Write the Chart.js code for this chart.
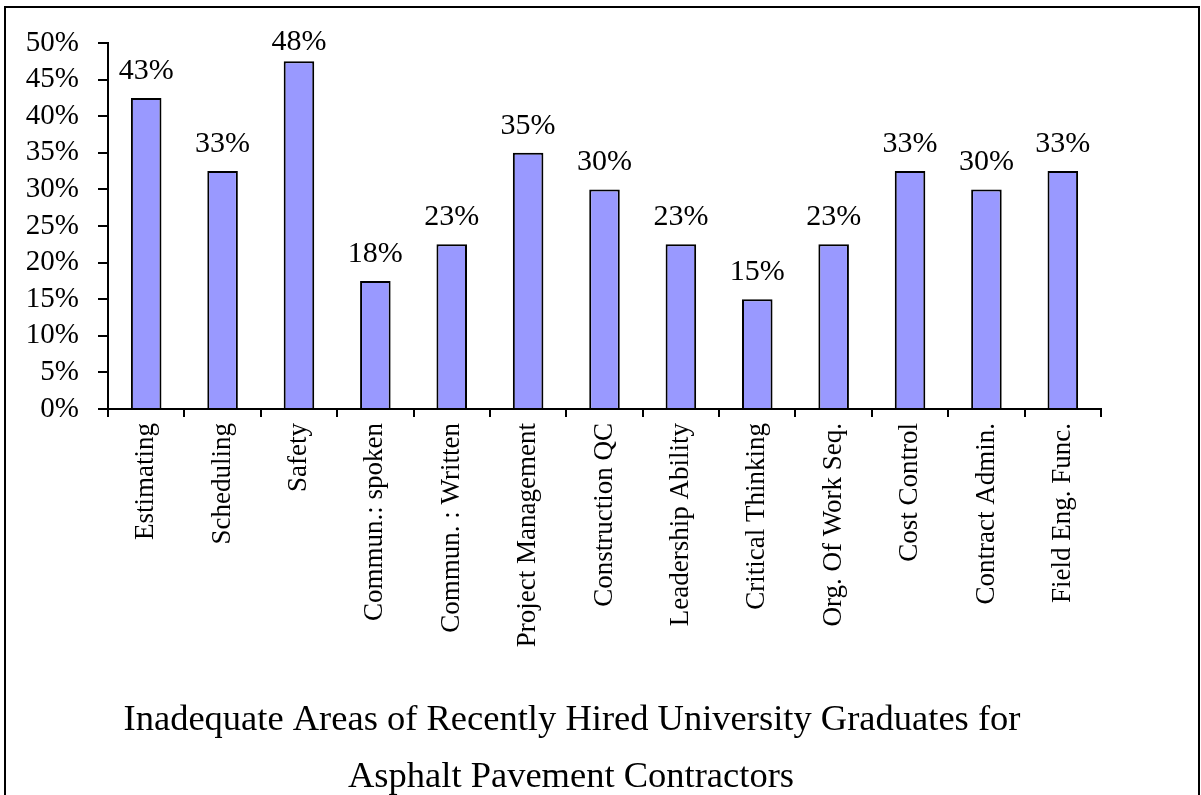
<!DOCTYPE html>
<html>
<head>
<meta charset="utf-8">
<script src="https://cdn.jsdelivr.net/npm/chart.js@4/dist/chart.umd.min.js"></script>
<style>
  html, body { margin:0; padding:0; background:#fff; overflow:hidden; }
  #frame { position:absolute; left:4px; top:6px; width:1196px; height:900px; border:2px solid #000; box-sizing:border-box; }
  #chart { position:absolute; left:0; top:0; }
</style>
</head>
<body>
<div id="frame"></div>
<canvas id="chart" width="1201" height="795"></canvas>
<script>
// chart data
const categories = [
  'Estimating', 'Scheduling', 'Safety', 'Commun.: spoken', 'Commun. : Written',
  'Project Management', 'Construction QC', 'Leadership Ability', 'Critical Thinking',
  'Org. Of Work Seq.', 'Cost Control', 'Contract Admin.', 'Field Eng. Func.'
];
const percentages = [42.5, 32.5, 47.5, 17.5, 22.5, 35, 30, 22.5, 15, 22.5, 32.5, 30, 32.5];
const yTicks = [0, 5, 10, 15, 20, 25, 30, 35, 40, 45, 50];
const titleLines = [
  'Inadequate Areas of Recently Hired University Graduates for',
  'Asphalt Pavement Contractors'
];

const SERIF = "'Liberation Serif', 'Times New Roman', serif";

// value labels above each bar (kept from running off the top like excel does)
const barLabels = {
  id: 'barLabels',
  afterDatasetsDraw(chart){
    const ctx = chart.ctx;
    const meta = chart.getDatasetMeta(0);
    const minBaseline = chart.chartArea.top + 7;
    ctx.save();
    ctx.font = '30px ' + SERIF;
    ctx.fillStyle = '#000';
    ctx.textAlign = 'center';
    ctx.textBaseline = 'alphabetic';
    meta.data.forEach((bar, i) => {
      const y = Math.max(bar.y - 19, minBaseline);
      ctx.fillText(Math.round(percentages[i]) + '%', bar.x, y);
    });
    ctx.restore();
  }
};

// two line caption at the bottom
const bottomTitle = {
  id: 'bottomTitle',
  afterDraw(chart){
    const ctx = chart.ctx;
    ctx.save();
    ctx.font = '36.5px ' + SERIF;
    ctx.fillStyle = '#000';
    ctx.textAlign = 'center';
    ctx.textBaseline = 'alphabetic';
    ctx.fillText(titleLines[0], 572, 730);
    ctx.fillText(titleLines[1], 571, 787);
    ctx.restore();
  }
};

new Chart(document.getElementById('chart'), {
  type: 'bar',
  data: {
    labels: categories,
    datasets: [{
      data: percentages,
      backgroundColor: '#9999FF',
      borderColor: '#000',
      borderWidth: 2,
      barPercentage: 0.4,
      categoryPercentage: 1
    }]
  },
  options: {
    responsive: false,
    animation: false,
    devicePixelRatio: 1,
    layout: { padding: { left: 0, right: 100, top: 43, bottom: 0 } },
    plugins: { legend: { display: false }, tooltip: { enabled: false }, title: { display: false } },
    scales: {
      x: {
        grid: { drawOnChartArea: false, color: '#000', lineWidth: 2, tickLength: 8, offset: true },
        border: { color: '#000', width: 2 },
        ticks: {
          color: '#000', font: { family: SERIF, size: 27 },
          minRotation: 90, maxRotation: 90, autoSkip: false, padding: 6
        },
        afterFit(scale){ scale.height = 386; }
      },
      y: {
        min: 0, max: 50,
        afterBuildTicks(scale){ scale.ticks = yTicks.map(v => ({ value: v })); },
        grid: { drawOnChartArea: false, color: '#000', lineWidth: 2, tickLength: 10 },
        border: { color: '#000', width: 2 },
        ticks: {
          color: '#000', font: { family: SERIF, size: 29 }, padding: 19, autoSkip: false,
          callback: v => v + '%'
        },
        afterFit(scale){ scale.width = 108; }
      }
    }
  },
  plugins: [barLabels, bottomTitle]
});
</script>
</body>
</html>
